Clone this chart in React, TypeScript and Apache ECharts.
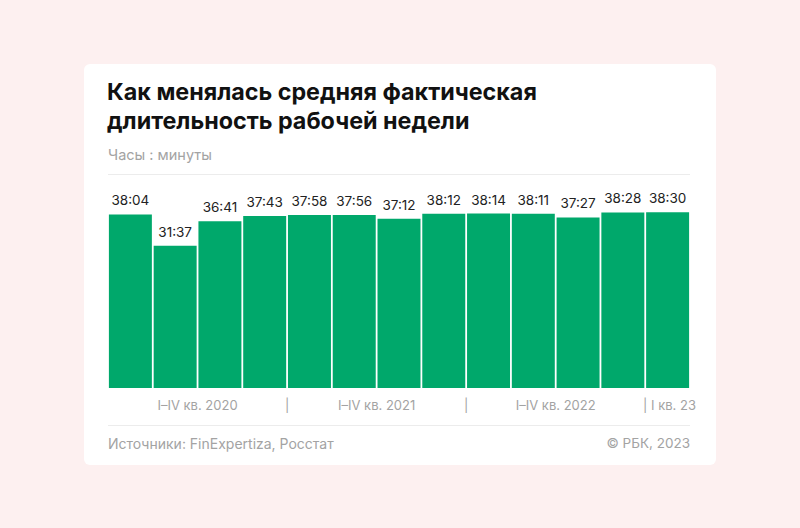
import React, { useEffect, useRef } from "react";
import * as echarts from "echarts";

const periods = [
  "I кв. 2020", "II кв. 2020", "III кв. 2020", "IV кв. 2020",
  "I кв. 2021", "II кв. 2021", "III кв. 2021", "IV кв. 2021",
  "I кв. 2022", "II кв. 2022", "III кв. 2022", "IV кв. 2022",
  "I кв. 2023",
];
const durationLabels = [
  "38:04", "31:37", "36:41", "37:43",
  "37:58", "37:56", "37:12", "38:12",
  "38:14", "38:11", "37:27", "38:28",
  "38:30",
];
const groupTickLabels: Record<number, string> = {
  2: "I–IV кв. 2020",
  4: "|",
  6: "I–IV кв. 2021",
  8: "|",
  10: "I–IV кв. 2022",
  12: "{ghost|I кв. 23 }{sep||}{lab| I кв. 23}",
};

const title = "Как менялась средняя фактическая\nдлительность рабочей недели";
const subtitle = "Часы : минуты";
const source = "Источники: FinExpertiza, Росстат";
const copyright = "© РБК, 2023";

const toHours = (s: string) => {
  const [h, m] = s.split(":").map(Number);
  return h + m / 60;
};

export default function App() {
  const ref = useRef<HTMLDivElement>(null);
  useEffect(() => {
    if (!ref.current) return;
    const chart = echarts.init(ref.current, undefined, { renderer: "svg" });
    const font = "Inter, 'Noto Sans', sans-serif";
    const gray = "#a3a3a3";
    chart.setOption({
      animation: false,
      backgroundColor: "#fdf0f0",
      textStyle: { fontFamily: font },
      graphic: [
        {
          type: "rect",
          shape: { x: 84, y: 64, width: 632, height: 401, r: 6 },
          style: { fill: "#ffffff" },
          z: -10,
        },
        {
          type: "text",
          x: 107,
          y: 77,
          style: {
            text: title,
            font: `bold 23.3px ${font}`,
            fill: "#111111",
            lineHeight: 29,
          },
        },
        {
          type: "text",
          x: 108,
          y: 147,
          style: { text: subtitle, font: `14.5px ${font}`, fill: gray },
        },
        {
          type: "line",
          shape: { x1: 108, y1: 174.5, x2: 690, y2: 174.5 },
          style: { stroke: "#ececec", lineWidth: 1 },
        },
        {
          type: "line",
          shape: { x1: 108, y1: 425.5, x2: 690, y2: 425.5 },
          style: { stroke: "#ececec", lineWidth: 1 },
        },
        {
          type: "text",
          x: 108,
          y: 436,
          style: { text: source, font: `14px ${font}`, fill: gray },
        },
        {
          type: "text",
          x: 690,
          y: 436,
          style: { text: copyright, font: `13.5px ${font}`, fill: gray, align: "right" },
        },
      ],
      grid: { left: 108, right: 110, top: 205, bottom: 140 },
      xAxis: [
        {
          type: "category",
          data: periods,
          axisLine: { show: false },
          axisTick: { show: false },
          axisLabel: { show: false },
        },
        {
          type: "value",
          min: 0,
          max: 13,
          interval: 1,
          position: "bottom",
          axisLine: { show: false },
          axisTick: { show: false },
          splitLine: { show: false },
          axisLabel: {
            show: true,
            margin: 10,
            color: gray,
            fontSize: 13,
            fontFamily: font,
            showMinLabel: true,
            showMaxLabel: true,
            formatter: (v: number) => groupTickLabels[Math.round(v)] ?? "",
            rich: {
              ghost: { color: "rgba(0,0,0,0)", fontSize: 13, fontFamily: font },
              sep: { color: gray, fontSize: 13, fontFamily: font },
              lab: { color: gray, fontSize: 13, fontFamily: font },
            },
          },
        },
      ],
      yAxis: {
        type: "value",
        min: 2.4,
        max: 40,
        show: false,
        splitLine: { show: false },
      },
      series: [
        {
          type: "bar",
          xAxisIndex: 0,
          data: durationLabels.map(toHours),
          barCategoryGap: "4%",
          itemStyle: { color: "#00a86b" },
          label: {
            show: true,
            position: "top",
            distance: 7,
            color: "#222222",
            fontSize: 13.5,
            fontFamily: font,
            formatter: (p: any) => durationLabels[p.dataIndex],
          },
        },
      ],
    });
    return () => chart.dispose();
  }, []);
  return (
    <div
      ref={ref}
      style={{ position: "absolute", left: 0, top: 0, width: 800, height: 528 }}
    />
  );
}
